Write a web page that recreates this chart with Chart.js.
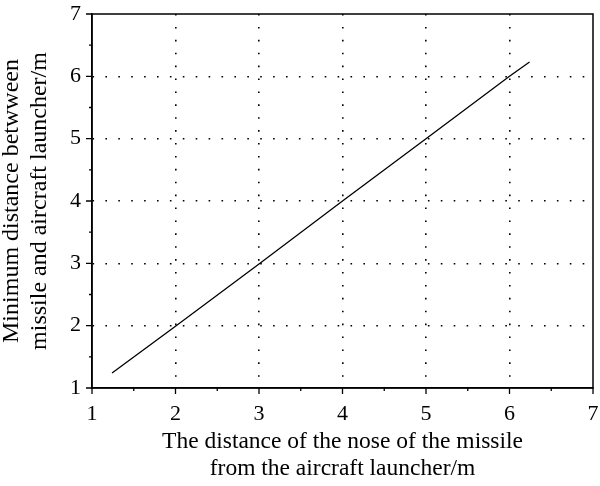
<!DOCTYPE html>
<html>
<head>
<meta charset="utf-8">
<script src="https://cdn.jsdelivr.net/npm/chart.js@4/dist/chart.umd.min.js"></script>
<style>
  html, body { margin: 0; padding: 0; background: #fff; }
  #wrap { width: 600px; height: 486px; }
</style>
</head>
<body>
<div id="wrap"><canvas id="chart" width="600" height="486"></canvas></div>
<script>
// Nose distance (x) vs minimum distance (y)
const noseDist = [1.24, 2, 3, 4, 5, 6, 6.24];
const minDist = [1.24, 1.99, 2.99, 4.0, 5.0, 6.0, 6.23];
const xTicks = [1, 2, 3, 4, 5, 6, 7];
const yTicks = [1, 2, 3, 4, 5, 6, 7];

const FONT = "'Liberation Serif', 'DejaVu Serif', serif";
const isMajor = (v) => Math.abs(v - Math.round(v)) < 1e-6;

// dotted grid only on interior integer lines
const gridColor = (ctx) => {
  const v = ctx.tick && ctx.tick.value;
  if (v === undefined || !isMajor(v)) return 'rgba(0,0,0,0)';
  if (v === 1 || v === 7) return 'rgba(0,0,0,0)';
  return '#000';
};

// frame on top/right plus outward tick marks (major + minor)
const frameAndTicks = {
  id: 'frameAndTicks',
  afterDraw(chart) {
    const { ctx, chartArea: a, scales: { x, y } } = chart;
    ctx.save();
    ctx.strokeStyle = '#000';
    ctx.lineWidth = 1.5;
    ctx.beginPath();
    ctx.rect(a.left, a.top, a.right - a.left, a.bottom - a.top);
    ctx.stroke();
    ctx.lineWidth = 1.3;
    ctx.beginPath();
    for (let v = 1; v <= 7.001; v += 0.5) {
      const len = isMajor(v) ? 6 : 3;
      const px = x.getPixelForValue(v);
      ctx.moveTo(px, a.bottom);
      ctx.lineTo(px, a.bottom + len);
      const py = y.getPixelForValue(v);
      ctx.moveTo(a.left, py);
      ctx.lineTo(a.left - len, py);
    }
    ctx.stroke();
    ctx.restore();
  }
};

new Chart(document.getElementById('chart'), {
  type: 'scatter',
  data: {
    datasets: [{
      data: noseDist.map((v, i) => ({ x: v, y: minDist[i] })),
      showLine: true,
      borderColor: '#000',
      borderWidth: 1.3,
      pointRadius: 0,
      tension: 0,
    }]
  },
  options: {
    responsive: false,
    animation: false,
    layout: { padding: { left: 0, right: 7, top: 14, bottom: 0 } },
    plugins: { legend: { display: false }, tooltip: { enabled: false } },
    scales: {
      x: {
        type: 'linear',
        min: 1, max: 7,
        afterBuildTicks: (s) => { s.ticks = xTicks.map(v => ({ value: v })); },
        afterFit: (s) => { s.height = 98; s.paddingLeft = 0; s.paddingRight = 0; },
        ticks: { color: '#000', padding: 13, font: { family: FONT, size: 22 } },
        grid: { color: gridColor, lineWidth: 1.6, drawTicks: false },
        border: { color: '#000', width: 1.5, dash: [1.6, 11.3] },
        title: {
          display: true,
          text: ['The distance of the nose of the missile', 'from the aircraft launcher/m'],
          color: '#000',
          font: { family: FONT, size: 23.5, lineHeight: 1.15 },
          padding: { top: 0, bottom: 4 }
        }
      },
      y: {
        type: 'linear',
        min: 1, max: 7,
        afterBuildTicks: (s) => { s.ticks = yTicks.map(v => ({ value: v })); },
        afterFit: (s) => { s.width = 92; s.paddingTop = 0; s.paddingBottom = 0; },
        ticks: { color: '#000', padding: 11, font: { family: FONT, size: 22 } },
        grid: { color: gridColor, lineWidth: 1.6, drawTicks: false },
        border: { color: '#000', width: 1.5, dash: [1.6, 11.3] },
        title: {
          display: true,
          text: ['Minimum distance betwween', 'missile and aircraft launcher/m'],
          color: '#000',
          font: { family: FONT, size: 24, lineHeight: 1.2 },
          padding: { top: -3, bottom: 0 }
        }
      }
    }
  },
  plugins: [frameAndTicks]
});
</script>
</body>
</html>
